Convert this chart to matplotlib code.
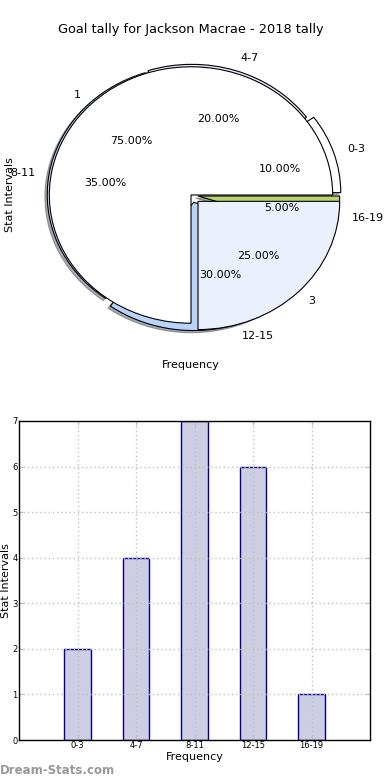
import matplotlib
matplotlib.use("Agg")
import matplotlib.pyplot as plt
import numpy as np

# data
intervals = ["0-3", "4-7", "8-11", "12-15", "16-19"]
counts = [2, 4, 7, 6, 1]
split_labels = ["3", "1"]
split_values = [1, 3]
title = "Goal tally for Jackson Macrae - 2018 tally"

W, H = 390.0, 780.0
fig = plt.figure(figsize=(3.9, 7.8), dpi=100)

def box(left, top, right, bottom):
  return [left/W, 1-bottom/H, (right-left)/W, (bottom-top)/H]

# ---- pie (two pies stacked on one axes, as in the original)
ax = fig.add_axes(box(21, 36, 361, 354))
ax.pie(counts, labels=intervals, autopct="%.2f%%", startangle=0,
       shadow=dict(ox=-0.012, oy=-0.012, shade=0.6),
       explode=[0.06, 0.02, 0.015, 0.06, 0.05],
       colors=["white", "#e4ecfa", "#c4daf4", "#b8d4fb", "#b8d46e"],
       wedgeprops=dict(edgecolor="black", linewidth=0.8),
       textprops=dict(fontsize=8))
ax.pie(split_values, labels=split_labels, autopct="%.2f%%", startangle=0,
       counterclock=False, explode=[0.07, 0],
       colors=["#eaf1fc", "white"],
       wedgeprops=dict(edgecolor="black", linewidth=0.8),
       textprops=dict(fontsize=8))
ax.set_aspect("auto")
ax.set_xlim(-1.2, 1.2)
ax.set_ylim(-1.24, 1.24)
ax.set_xlabel("Frequency", fontsize=8)
ax.set_ylabel("Stat Intervals", fontsize=8)
ax.set_title(title, fontsize=9.3, pad=0)

# ---- bars
bx = fig.add_axes(box(19, 421, 370, 740))
x = np.arange(len(intervals))
bx.bar(x, counts, width=0.45, color="#cdcde3", edgecolor="#00008b", linewidth=1)
bx.set_xlim(-1, 5)
bx.set_ylim(0, 7)
bx.set_xticks(x)
bx.set_xticklabels(intervals)
bx.set_yticks(range(8))
bx.tick_params(direction="in", length=3, color="#bbbbbb", labelsize=6, pad=1,
               top=True, right=True)
bx.set_axisbelow(False)
bx.grid(True, linestyle=(0, (1, 2)), color="#c0c0c0", linewidth=1)
for s in bx.spines.values():
  s.set_linewidth(1)
  s.set_zorder(4)
bx.set_xlabel("Frequency", fontsize=8, labelpad=1)
bx.set_ylabel("Stat Intervals", fontsize=8, labelpad=1)

fig.text(0, 1-770/H, "Dream-Stats.com", fontsize=8.5, color="#999999",
         fontweight="bold", va="center", ha="left")

fig.savefig("out.png", dpi=100)
